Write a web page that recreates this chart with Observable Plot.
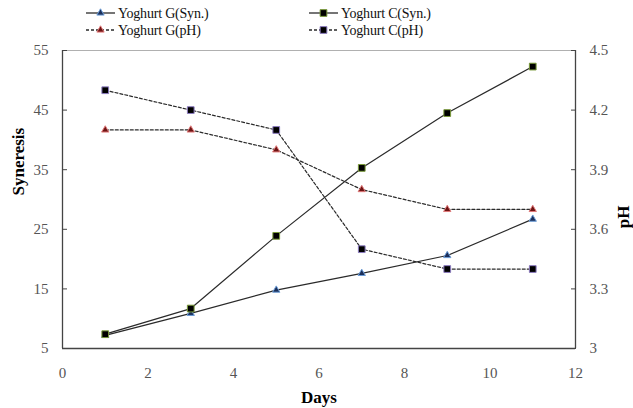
<!DOCTYPE html>
<html>
<head>
<meta charset="utf-8">
<script src="https://cdn.jsdelivr.net/npm/d3@7"></script>
<script src="https://cdn.jsdelivr.net/npm/@observablehq/plot@0.6"></script>
<style>
  html, body { margin: 0; padding: 0; background: #fff; }
  #wrap { width: 633px; height: 408px; position: relative; overflow: hidden; font-family: "Liberation Serif", "Times New Roman", serif; }
  #legend { position: relative; height: 42px; width: 633px; }
  .item { position: absolute; display: flex; align-items: center; font-family: "Liberation Serif", "Times New Roman", serif; color: #111; white-space: nowrap; height: 16px; }
  .item svg { display: block; margin-right: 2px; }
  .item span { display: inline-block; font-size: 14px; line-height: 15px; letter-spacing: -0.2px; }
  #chart svg { display: block; }
</style>
</head>
<body>
<div id="wrap">
  <div id="legend"></div>
  <div id="chart"></div>
</div>
<script>
// ---- data ----
const days = [1, 3, 5, 7, 9, 11];
const synG = [7.2, 10.9, 14.8, 17.6, 20.6, 26.7];
const synC = [7.4, 11.7, 23.9, 35.3, 44.5, 52.3];
const phG = [4.1, 4.1, 4.0, 3.8, 3.7, 3.7];
const phC = [4.3, 4.2, 4.1, 3.5, 3.4, 3.4];
const synTicks = [5, 15, 25, 35, 45, 55];
const phTicks = [3, 3.3, 3.6, 3.9, 4.2, 4.5];
const dayTicks = [0, 2, 4, 6, 8, 10, 12];
const seriesNames = ["Yoghurt G(Syn.)", "Yoghurt C(Syn.)", "Yoghurt G(pH)", "Yoghurt C(pH)"];

const FONT = "Liberation Serif";

// secondary axis (pH 3–4.5) mapped onto primary (5–55)
const synMin = 5, synMax = 55, phMin = 3, phMax = 4.5;
const phToSyn = p => synMin + (p - phMin) * (synMax - synMin) / (phMax - phMin);
const synToPh = v => phMin + (v - synMin) * (phMax - phMin) / (synMax - synMin);

const styles = {
  "Yoghurt G(Syn.)": {symbol: "triangle", fill: "#1b2f5a", stroke: "#6a9bd6", dash: null, r: 2.7},
  "Yoghurt C(Syn.)": {symbol: "square", fill: "#000", stroke: "#7a9a3a", dash: null, r: 3.8},
  "Yoghurt G(pH)": {symbol: "triangle", fill: "#6e1414", stroke: "#e07a7a", dash: "3,2", r: 2.7},
  "Yoghurt C(pH)": {symbol: "square", fill: "#000", stroke: "#8c7cc0", dash: "3,2", r: 3.8}
};

const rows = [];
days.forEach((d, i) => {
  rows.push({series: "Yoghurt G(Syn.)", day: d, y: synG[i]});
  rows.push({series: "Yoghurt C(Syn.)", day: d, y: synC[i]});
  rows.push({series: "Yoghurt G(pH)", day: d, y: phToSyn(phG[i])});
  rows.push({series: "Yoghurt C(pH)", day: d, y: phToSyn(phC[i])});
});

const marks = [];
// frame
marks.push(Plot.ruleY([synMax], {stroke: "#b0b0b0", strokeWidth: 1.2}));
marks.push(Plot.ruleY([synMin], {stroke: "#444", strokeWidth: 1.3}));
marks.push(Plot.ruleX([0, 12], {stroke: "#444", strokeWidth: 1.3}));
// lines
const order = ["Yoghurt G(pH)", "Yoghurt C(pH)", "Yoghurt G(Syn.)", "Yoghurt C(Syn.)"];
for (const name of order) {
  const s = styles[name];
  const data = rows.filter(r => r.series === name);
  marks.push(Plot.line(data, {x: "day", y: "y", stroke: "#2a2a2a", strokeWidth: 1.2, strokeDasharray: s.dash}));
}
for (const name of order) {
  const s = styles[name];
  const data = rows.filter(r => r.series === name);
  marks.push(Plot.dot(data, {x: "day", y: "y", symbol: s.symbol, r: s.r, fill: s.fill, stroke: s.stroke, strokeWidth: 1}));
}
// axes
marks.push(Plot.axisY({anchor: "left", ticks: synTicks, tickSize: -5, tickPadding: 19, stroke: "#444", fill: "#555", fontSize: 15, fontFamily: FONT, label: null}));
marks.push(Plot.axisY({anchor: "right", ticks: phTicks.map(phToSyn), tickSize: -5, tickPadding: 19,
  tickFormat: v => String(Math.round(synToPh(v) * 10) / 10),
  stroke: "#444", fill: "#555", fontSize: 15, fontFamily: FONT, label: null}));
marks.push(Plot.axisX({ticks: dayTicks, tickSize: 0, tickPadding: 19, fill: "#555", fontSize: 15, fontFamily: FONT, label: null}));
// axis titles
marks.push(Plot.text(["Days"], {frameAnchor: "bottom", dy: 54, fontWeight: "bold", fontSize: 17, fontFamily: FONT, fill: "#000"}));
marks.push(Plot.text(["Syneresis"], {frameAnchor: "left", rotate: -90, dx: -44, dy: -4, fontWeight: "bold", fontSize: 17, fontFamily: FONT, fill: "#000"}));
marks.push(Plot.text(["pH"], {frameAnchor: "right", rotate: -90, dx: 48, dy: 6, fontWeight: "bold", fontSize: 17, fontFamily: FONT, fill: "#000"}));

const chart = Plot.plot({
  width: 633,
  height: 366,
  marginTop: 8,
  marginBottom: 60,
  marginLeft: 62,
  marginRight: 58,
  x: {domain: [0, 12]},
  y: {domain: [synMin, synMax]},
  style: {fontFamily: "'Liberation Serif', 'Times New Roman', serif", fontSize: "15px", background: "#fff", overflow: "visible"},
  marks
});
document.getElementById("chart").appendChild(chart);

// legend
const legendPos = [
  {name: seriesNames[0], left: 85, top: 5},
  {name: seriesNames[1], left: 308, top: 5},
  {name: seriesNames[2], left: 85, top: 22},
  {name: seriesNames[3], left: 308, top: 22}
];
const legend = document.getElementById("legend");
for (const p of legendPos) {
  const s = styles[p.name];
  const div = document.createElement("div");
  div.className = "item";
  div.style.left = p.left + "px";
  div.style.top = p.top + "px";
  const sw = d3.create("svg").attr("width", 31).attr("height", 16);
  sw.append("line").attr("x1", 1).attr("x2", 30).attr("y1", 8).attr("y2", 8)
    .attr("stroke", "#2a2a2a").attr("stroke-width", 1.3).attr("stroke-dasharray", s.dash);
  const area = Math.PI * s.r * s.r;
  sw.append("path").attr("transform", "translate(15.5,8)")
    .attr("d", d3.symbol(s.symbol === "square" ? d3.symbolSquare : d3.symbolTriangle, area)())
    .attr("fill", s.fill).attr("stroke", s.stroke).attr("stroke-width", 1);
  div.appendChild(sw.node());
  const t = document.createElement("span");
  t.textContent = p.name;
  div.appendChild(t);
  legend.appendChild(div);
}
</script>
</body>
</html>
